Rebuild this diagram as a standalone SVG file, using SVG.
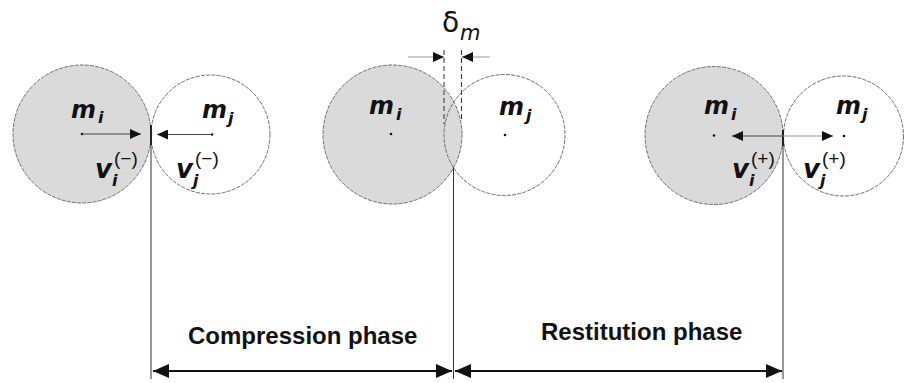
<svg xmlns="http://www.w3.org/2000/svg" width="905" height="383" viewBox="0 0 905 383">
<defs>
<style>
.bg{fill:#ffffff}
.gray{fill:#dadada;stroke:#6e6e6e;stroke-width:1;stroke-dasharray:4 1.2}
.white{fill:none;stroke:#6e6e6e;stroke-width:1;stroke-dasharray:4 1.2}
.dot{fill:#111}
.m{font-family:"DejaVu Sans",Verdana,sans-serif;font-weight:bold;font-style:italic;font-size:24px;fill:#111}
.v{font-family:"DejaVu Sans",Verdana,sans-serif;font-weight:bold;font-style:italic;font-size:26px;fill:#111}
.sub{font-family:"DejaVu Sans",Verdana,sans-serif;font-weight:bold;font-style:italic;font-size:16px}
.sup{font-family:"Liberation Sans",Arial,sans-serif;font-weight:normal;font-style:normal;font-size:19px}
.delta{font-family:"DejaVu Sans",sans-serif;font-size:28px;fill:#111}
.dsub{font-style:italic;font-size:21px}
.lbl{font-family:"Liberation Sans",Arial,sans-serif;font-weight:bold;font-size:24px;fill:#111}
.vline{stroke:#333;stroke-width:1;fill:none}
.contact{stroke:#222;stroke-width:2;fill:none}
.small{stroke:#444;stroke-width:1;fill:none;marker-end:url(#ah)}
.light{stroke:#999;stroke-width:1;fill:none;marker-end:url(#ah)}
.dash{stroke:#333;stroke-width:1;stroke-dasharray:5 3;fill:none}
.big{stroke:#111;stroke-width:2;fill:none;marker-start:url(#bh);marker-end:url(#bh)}
</style>
<marker id="ah" markerUnits="userSpaceOnUse" markerWidth="12" markerHeight="10" refX="11" refY="5" orient="auto">
<path d="M0,0 L11,5 L0,10 z" fill="#111"/>
</marker>
<marker id="bh" markerUnits="userSpaceOnUse" markerWidth="17" markerHeight="15" refX="16" refY="7" orient="auto-start-reverse">
<path d="M0,0 L16,7 L0,14 z" fill="#111"/>
</marker>
</defs>
<rect class="bg" x="0" y="0" width="905" height="383"/>

<g id="left-mi">
<circle class="gray" cx="82" cy="134" r="69"/>
<circle class="dot" cx="82" cy="134" r="1.3"/>
<text class="m" x="71" y="118">m<tspan class="sub" x="98" y="123">i</tspan></text>
<text class="v" x="95" y="178">v<tspan class="sub" x="112" y="186">i</tspan><tspan class="sup" x="114" y="165">(−)</tspan></text>
</g>
<g id="left-mj">
<circle class="white" cx="210.5" cy="134.5" r="59.5"/>
<circle class="dot" cx="212" cy="134.5" r="1.3"/>
<text class="m" x="202" y="118">m<tspan class="sub" x="228" y="124">j</tspan></text>
<text class="v" x="176" y="178">v<tspan class="sub" x="193" y="186">j</tspan><tspan class="sup" x="195" y="165">(−)</tspan></text>
</g>

<g id="mid-mi">
<circle class="gray" cx="392.5" cy="134.5" r="69.5"/>
<circle class="dot" cx="391" cy="134" r="1.3"/>
<text class="m" x="369" y="114">m<tspan class="sub" x="396" y="120">i</tspan></text>
</g>
<g id="mid-mj">
<circle class="white" cx="504.5" cy="135" r="60.5"/>
<circle class="dot" cx="505" cy="135" r="1.3"/>
<text class="m" x="499" y="115">m<tspan class="sub" x="526" y="121">j</tspan></text>
</g>
<g id="delta">
<text class="delta" x="442" y="32">δ<tspan class="dsub" x="460" y="40">m</tspan></text>
</g>

<g id="right-mi">
<circle class="gray" cx="714" cy="135.5" r="69"/>
<circle class="dot" cx="714" cy="135.5" r="1.3"/>
<text class="m" x="704" y="114">m<tspan class="sub" x="731" y="120">i</tspan></text>
<text class="v" x="732" y="178">v<tspan class="sub" x="749" y="186">i</tspan><tspan class="sup" x="751" y="165">(+)</tspan></text>
</g>
<g id="right-mj">
<circle class="white" cx="843.5" cy="136" r="60"/>
<circle class="dot" cx="844" cy="136" r="1.3"/>
<text class="m" x="836" y="114">m<tspan class="sub" x="862" y="120">j</tspan></text>
<text class="v" x="803" y="178">v<tspan class="sub" x="820" y="186">j</tspan><tspan class="sup" x="822" y="165">(+)</tspan></text>
</g>

<g id="labels">
<text class="lbl" x="188" y="344">Compression phase</text>
<text class="lbl" x="541" y="340">Restitution phase</text>
</g>

<g id="connectors">
<line class="vline" x1="151" y1="127" x2="151" y2="379"/>
<line class="contact" x1="151" y1="125" x2="151" y2="145"/>
<line class="vline" x1="453.5" y1="167" x2="453.5" y2="379"/>
<line class="vline" x1="783" y1="130" x2="783" y2="379"/>
<line class="contact" x1="783" y1="130" x2="783" y2="146"/>
<line class="small" x1="82" y1="134" x2="141" y2="134"/>
<line class="small" x1="212" y1="134.5" x2="157" y2="134.5"/>
<line class="small" x1="783" y1="136" x2="732" y2="136"/>
<line class="light" x1="783" y1="136" x2="833" y2="136"/>
<line class="light" x1="408" y1="57" x2="444" y2="57"/>
<line class="light" x1="490" y1="57" x2="462" y2="57"/>
<line class="dash" x1="444" y1="50" x2="444" y2="124"/>
<line class="dash" x1="461.5" y1="50" x2="461.5" y2="122"/>
<line class="big" x1="153" y1="371" x2="452" y2="371"/>
<line class="big" x1="455" y1="371" x2="782" y2="371"/>
</g>
</svg>
